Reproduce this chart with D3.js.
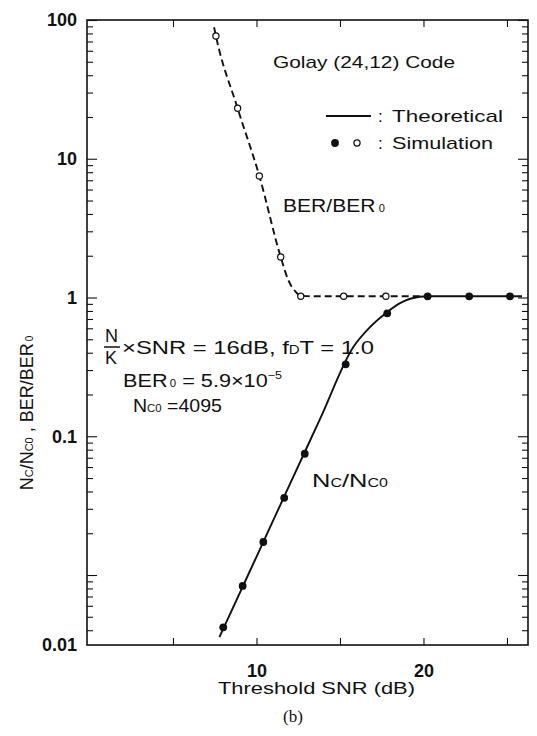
<!DOCTYPE html>
<html><head><meta charset="utf-8">
<script src="https://cdn.jsdelivr.net/npm/d3@7"></script>
<style>
html,body{margin:0;padding:0;background:#fff;}
svg text{font-family:"Liberation Sans",Arial,sans-serif;fill:#111;}
</style></head>
<body><svg id="c" width="537" height="736"></svg>
<script>
// ---------- data ----------
const xTicks = [5, 10, 15, 20, 25];
const xTickLabels = ["", "10", "", "20", ""];
const yMajor = [100, 10, 1, 0.1, 0.01];
const yTickLabels = ["100", "10", "1", "0.1", "0.01"];
// Nc/Nc0 simulation (filled circles)
const ncSimX = [8.01, 9.17, 10.41, 11.66, 12.89, 15.34, 17.83, 20.25, 22.74, 25.18];
const ncSimY = [0.0042, 0.00834, 0.0173, 0.036, 0.0748, 0.330, 0.769, 1.02, 1.02, 1.02];
// BER/BER0 simulation (open circles)
const berSimX = [7.57, 8.87, 10.17, 11.45, 12.65, 15.22, 17.75];
const berSimY = [76.7, 23.1, 7.52, 1.96, 1.02, 1.02, 1.02];
// theoretical Nc/Nc0 (solid)
const ncThX = [7.78, 9.8, 11.8, 13.8, 15.8, 16.8, 17.8, 18.6, 19.2, 20.3, 25.9];
const ncThY = [0.00357, 0.0120, 0.040, 0.1327, 0.44, 0.612, 0.78, 0.91, 0.98, 1.02, 1.02];
// theoretical BER/BER0 (dashed)
const berThX = [7.46, 7.57, 8.87, 10.17, 11.45, 11.9, 12.31, 12.65, 13.5, 19.9];
const berThY = [88.6, 76.7, 23.1, 7.52, 1.96, 1.34, 1.11, 1.03, 1.02, 1.02];

// ---------- layout ----------
const L = 87, R = 528, T = 20, B = 645;
const xMin = -0.15, xMax = 26.26, yMin = 0.00313, yMax = 100;
const x = d3.scaleLinear().domain([xMin, xMax]).range([L, R]);
const y = d3.scaleLog().domain([yMin, yMax]).range([B, T]);
const svg = d3.select("#c");

const yMinor = [];
for (let e = -3; e <= 1; e++) for (let m = 2; m <= 9; m++) {
  const v = m * Math.pow(10, e);
  if (v > yMin && v < yMax) yMinor.push(v);
}

function styleAxis(g){ g.select(".domain").remove(); g.selectAll(".tick line").attr("stroke","#111").attr("stroke-width",1.1); }

svg.append("g").attr("transform",`translate(${L},0)`).call(d3.axisLeft(y).tickValues(yMajor).tickSize(-10).tickFormat("")).call(styleAxis);
svg.append("g").attr("transform",`translate(${L},0)`).call(d3.axisLeft(y).tickValues(yMinor).tickSize(-6).tickFormat("")).call(styleAxis);
svg.append("g").attr("transform",`translate(${R},0)`).call(d3.axisRight(y).tickValues(yMajor).tickSize(-10).tickFormat("")).call(styleAxis);
svg.append("g").attr("transform",`translate(${R},0)`).call(d3.axisRight(y).tickValues(yMinor).tickSize(-6).tickFormat("")).call(styleAxis);
// tick labels (the lowest label sits at the bottom of the axis, as in the reference)
const yLabelPos = [100, 10, 1, 0.1, yMin];
const yl = svg.append("g").attr("transform",`translate(${L},0)`)
  .call(d3.axisLeft(y).tickValues(yLabelPos).tickSize(0).tickPadding(10).tickFormat((d,i)=>yTickLabels[i]))
  .call(styleAxis);
yl.selectAll("text").attr("font-size",18).attr("font-weight","bold").attr("fill","#111").attr("font-family","Liberation Sans, Arial, sans-serif");

const xb = svg.append("g").attr("transform",`translate(0,${B})`)
  .call(d3.axisBottom(x).tickValues(xTicks).tickSize(-7).tickPadding(19).tickFormat((d,i)=>xTickLabels[i]))
  .call(styleAxis);
xb.selectAll("text").attr("font-size",18).attr("font-weight","bold").attr("fill","#111").attr("font-family","Liberation Sans, Arial, sans-serif");
svg.append("g").attr("transform",`translate(0,${T})`).call(d3.axisTop(x).tickValues(xTicks).tickSize(-7).tickFormat("")).call(styleAxis);

// frame
svg.append("rect").attr("x",L).attr("y",T).attr("width",R-L).attr("height",B-T)
  .attr("fill","none").attr("stroke","#111").attr("stroke-width",1.6);

// curves
const line = d3.line().x(d=>x(d[0])).y(d=>y(d[1])).curve(d3.curveMonotoneX);
svg.append("path").datum(d3.zip(ncThX, ncThY)).attr("d", line)
  .attr("fill","none").attr("stroke","#111").attr("stroke-width",1.9);
svg.append("path").datum(d3.zip(berThX, berThY)).attr("d", line)
  .attr("fill","none").attr("stroke","#111").attr("stroke-width",1.9).attr("stroke-dasharray","7,4");

// markers
svg.append("g").selectAll("circle").data(d3.zip(berSimX, berSimY)).join("circle")
  .attr("cx",d=>x(d[0])).attr("cy",d=>y(d[1])).attr("r",3.1)
  .attr("fill","#fff").attr("stroke","#111").attr("stroke-width",1.2);
svg.append("g").selectAll("circle").data(d3.zip(ncSimX, ncSimY)).join("circle")
  .attr("cx",d=>x(d[0])).attr("cy",d=>y(d[1])).attr("r",3.9).attr("fill","#111");

// ---------- texts ----------
function txt(s, xx, yy, size, len){
  const t = svg.append("text").attr("x",xx).attr("y",yy).attr("font-size",size).text(s);
  if (len) t.attr("textLength",len).attr("lengthAdjust","spacingAndGlyphs");
  return t;
}
txt("Golay (24,12) Code", 273, 68, 17, 182);
// legend
svg.append("line").attr("x1",326).attr("x2",371).attr("y1",116).attr("y2",116).attr("stroke","#111").attr("stroke-width",2);
txt(":", 378, 122, 17);
txt("Theoretical", 392, 122, 17, 111);
svg.append("circle").attr("cx",335).attr("cy",143).attr("r",3.9).attr("fill","#111");
svg.append("circle").attr("cx",357).attr("cy",143).attr("r",3.1).attr("fill","#fff").attr("stroke","#111").attr("stroke-width",1.2);
txt(":", 378, 149, 17);
txt("Simulation", 392, 149, 17, 101);

// BER/BER0 label
let t = svg.append("text").attr("x",283).attr("y",212).attr("font-size",19).attr("textLength",102).attr("lengthAdjust","spacingAndGlyphs");
t.append("tspan").text("BER/BER");
t.append("tspan").attr("font-size",10).attr("dx",3).text("0");

// Nc/Nc0 label
t = svg.append("text").attr("x",312).attr("y",487).attr("font-size",19).attr("textLength",76).attr("lengthAdjust","spacingAndGlyphs");
t.append("tspan").text("N");
t.append("tspan").attr("font-size",12).text("C");
t.append("tspan").text("/N");
t.append("tspan").attr("font-size",12).text("C0");

// annotation block
txt("N", 105, 342, 18);
svg.append("line").attr("x1",104).attr("x2",120).attr("y1",347).attr("y2",347).attr("stroke","#111").attr("stroke-width",1.5);
txt("K", 105, 364, 18);
t = svg.append("text").attr("x",122).attr("y",354).attr("font-size",19).attr("textLength",252).attr("lengthAdjust","spacingAndGlyphs");
t.append("tspan").text("×SNR = 16dB,  f");
t.append("tspan").attr("font-size",12).text("D");
t.append("tspan").text("T = 1.0");
t = svg.append("text").attr("x",123).attr("y",387).attr("font-size",19).attr("textLength",159).attr("lengthAdjust","spacingAndGlyphs");
t.append("tspan").text("BER");
t.append("tspan").attr("font-size",10).attr("dx",2).text("0");
t.append("tspan").text(" = 5.9×10");
t.append("tspan").attr("font-size",11).attr("dy",-8).text("−5");
t = svg.append("text").attr("x",133).attr("y",412).attr("font-size",19).attr("textLength",89).attr("lengthAdjust","spacingAndGlyphs");
t.append("tspan").text("N");
t.append("tspan").attr("font-size",11).text("C0");
t.append("tspan").text(" =4095");

// axis titles
txt("Threshold SNR (dB)", 218, 694, 17, 197);
svg.append("text").attr("x",293).attr("y",722).attr("font-size",17).attr("text-anchor","middle")
  .style("font-family","Liberation Serif, Times New Roman, serif").text("(b)");
t = svg.append("text").attr("transform","translate(33,413) rotate(-90)").attr("text-anchor","middle").attr("font-size",18);
t.append("tspan").text("N");
t.append("tspan").attr("font-size",11).text("C");
t.append("tspan").text("/N");
t.append("tspan").attr("font-size",11).text("C0");
t.append("tspan").text("  ,   BER/BER");
t.append("tspan").attr("font-size",10).attr("dx",2).text("0");
</script></body></html>
